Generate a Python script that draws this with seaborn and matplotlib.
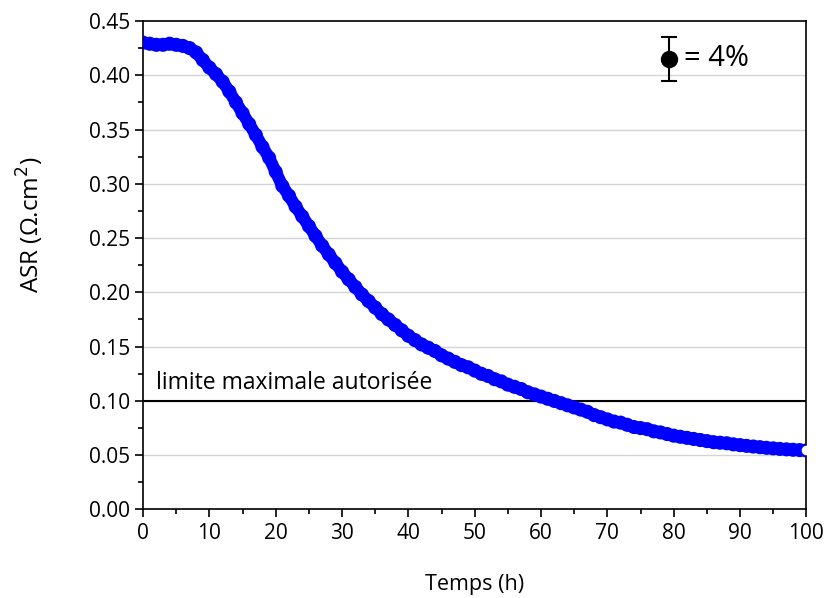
import numpy as np
import pandas as pd
import matplotlib
matplotlib.use("Agg")
import matplotlib.pyplot as plt
import seaborn as sns
from matplotlib.ticker import MultipleLocator

# temps (h) et ASR
temps = list(range(0, 101))
asr = [
    0.430, 0.429, 0.428, 0.428, 0.429, 0.428, 0.427, 0.425, 0.421, 0.414,
    0.407, 0.401, 0.394, 0.385, 0.375, 0.365, 0.355, 0.345, 0.334, 0.324,
    0.311, 0.298, 0.289, 0.279, 0.270, 0.261, 0.252, 0.243, 0.235, 0.227,
    0.219, 0.212, 0.205, 0.198, 0.192, 0.186, 0.180, 0.175, 0.170, 0.165,
    0.160, 0.156, 0.152, 0.149, 0.146, 0.142, 0.139, 0.136, 0.133, 0.131,
    0.128, 0.125, 0.123, 0.120, 0.118, 0.115, 0.113, 0.111, 0.108, 0.106,
    0.104, 0.102, 0.100, 0.098, 0.096, 0.094, 0.092, 0.090, 0.087, 0.085,
    0.083, 0.081, 0.080, 0.078, 0.076, 0.075, 0.074, 0.072, 0.071, 0.0695,
    0.068, 0.067, 0.066, 0.065, 0.064, 0.063, 0.062, 0.0615, 0.061, 0.060,
    0.0593, 0.0586, 0.058, 0.0574, 0.0568, 0.0563, 0.0558, 0.0554, 0.055, 0.0547,
    0.0544,
]
limite = 0.10
limite_label = "limite maximale autorisée"
erreur_label = "= 4%"

df = pd.DataFrame({"temps": temps, "asr": asr})

sns.set_theme(style="ticks")
plt.rcParams["font.family"] = ["Open Sans", "DejaVu Sans"]
plt.rcParams["text.color"] = "black"
plt.rcParams["axes.labelcolor"] = "black"
plt.rcParams["xtick.color"] = "black"
plt.rcParams["ytick.color"] = "black"
plt.rcParams["axes.linewidth"] = 1.2
for k in ["xtick.major.width", "ytick.major.width", "xtick.minor.width", "ytick.minor.width"]:
    plt.rcParams[k] = 1.2

fig = plt.figure(figsize=(8.27, 5.98), dpi=100)
ax = fig.add_axes([0.173, 0.148, 0.802, 0.817])

# grille horizontale
for y in np.arange(0.05, 0.45, 0.05):
    ax.axhline(y, color="#d4d4d4", lw=1.0, zorder=0)

sns.lineplot(data=df, x="temps", y="asr", ax=ax, color="#0000ff", lw=8.8,
             solid_capstyle="round", zorder=2)
sns.scatterplot(data=df, x="temps", y="asr", ax=ax, s=80, facecolors="none",
                edgecolor="#0000ff", linewidth=1.2, zorder=3)
ax.scatter([temps[-1]], [asr[-1]], s=35, color="white", zorder=4)

ax.axhline(limite, color="black", lw=1.5, zorder=1)
ax.text(2.0, limite + 0.005, limite_label, fontsize=16.5, ha="left", va="bottom")

# indicateur d'erreur
ax.errorbar([79.3], [0.415], yerr=[0.0205], fmt="o", color="black", ms=11.5,
            capsize=6, elinewidth=1.5, capthick=1.5, zorder=5)
ax.text(81.6, 0.415, erreur_label, fontsize=21, ha="left", va="center")

ax.set_xlim(0, 100)
ax.set_ylim(0, 0.45)
ax.xaxis.set_major_locator(MultipleLocator(10))
ax.xaxis.set_minor_locator(MultipleLocator(5))
ax.yaxis.set_major_locator(MultipleLocator(0.05))
ax.yaxis.set_minor_locator(MultipleLocator(0.025))
ax.set_yticklabels([f"{v:.2f}" for v in ax.get_yticks()])
ax.tick_params(which="major", direction="out", length=6, labelsize=15, color="black")
ax.tick_params(which="minor", direction="out", length=3.5, color="black")
for s in ax.spines.values():
    s.set_color("black")
    s.set_visible(True)

ax.set_xlabel("Temps (h)", fontsize=15.5, labelpad=22)
ax.set_ylabel("ASR (Ω.cm$^2$)", fontsize=17.5)
ax.yaxis.set_label_coords(-0.147, 0.583)

fig.savefig("out.png", dpi=100)
